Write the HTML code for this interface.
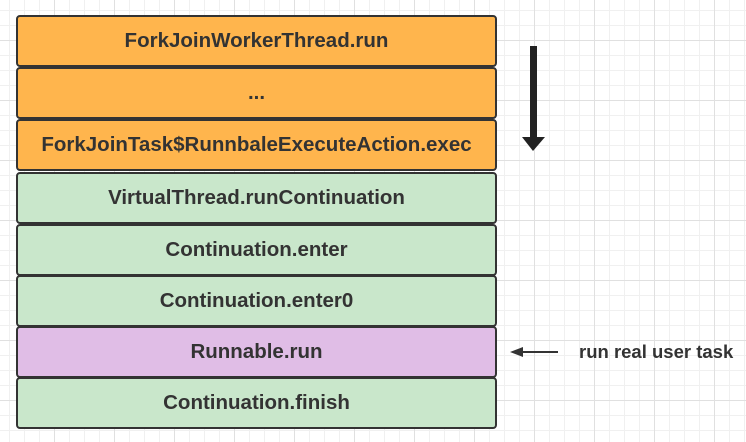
<!DOCTYPE html>
<html><head><style>
body{margin:0;width:746px;height:442px;overflow:hidden;background:#fff;
background-image:
linear-gradient(to right,#e0e0e0 1px,transparent 1px),
linear-gradient(to bottom,#e0e0e0 1px,transparent 1px),
linear-gradient(to right,#f0f0f0 1px,transparent 1px),
linear-gradient(to bottom,#f0f0f0 1px,transparent 1px);
background-size:60px 60px,60px 60px,15px 15px,15px 15px;
background-position:54px 40px,54px 40px,9px 10px,9px 10px;
font-family:"Liberation Sans",sans-serif;position:relative}
.b{position:absolute;left:16px;width:481px;border:2px solid #333;border-radius:4px;box-sizing:border-box;
display:flex;align-items:center;justify-content:center;font-weight:bold;font-size:20.5px;color:#333}
.o{background:#ffb54d}.g{background:#c9e7cb}.p{background:#e0bde6}
</style></head><body>
<div class="b o" style="top:15px;height:52px">ForkJoinWorkerThread.run</div>
<div class="b o" style="top:67px;height:52px">...</div>
<div class="b o" style="top:119px;height:52px">ForkJoinTask$RunnbaleExecuteAction.exec</div>
<div class="b g" style="top:172px;height:52px">VirtualThread.runContinuation</div>
<div class="b g" style="top:224px;height:52px">Continuation.enter</div>
<div class="b g" style="top:275px;height:52px">Continuation.enter0</div>
<div class="b p" style="top:326px;height:52px">Runnable.run</div>
<div class="b g" style="top:377px;height:52px">Continuation.finish</div>
<svg width="746" height="442" style="position:absolute;left:0;top:0">
<rect x="530" y="46" width="7" height="92" fill="#222"/>
<polygon points="522,137 545,137 533,151" fill="#222"/>
<line x1="520" y1="352" x2="558" y2="352" stroke="#333" stroke-width="2"/>
<polygon points="510,352 523,347 523,357" fill="#333"/>
<text x="579" y="358" font-family="Liberation Sans" font-weight="bold" font-size="18.5" fill="#333">run real user task</text>
</svg>
</body></html>
